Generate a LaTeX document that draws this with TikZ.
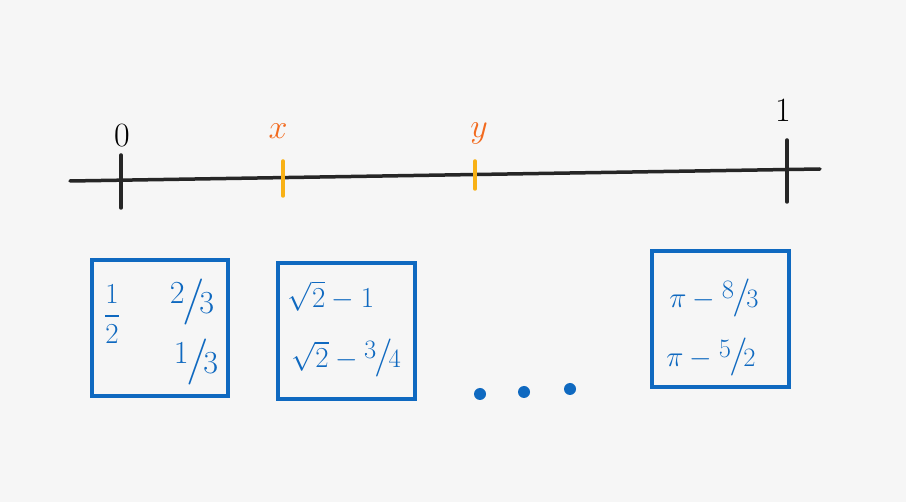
\RequirePackage{fix-cm}
\documentclass[tikz,border=0pt]{standalone}
\usepackage{amsmath,amssymb}
\usepackage{xfrac}
\usepackage{xcolor}
\usetikzlibrary{positioning,calc}
\definecolor{bgc}{HTML}{F6F6F6}
\definecolor{boxblue}{HTML}{0F69C0}
\definecolor{tickor}{HTML}{F8B116}
\definecolor{labor}{HTML}{F26A1E}
\newcommand{\bsf}[2]{{\fontsize{38}{42}\selectfont$\sfrac{#1}{#2}$}}

\begin{document}
\begin{tikzpicture}[x=1pt,y=-1pt,
  tk/.style={line width=3.5pt,line cap=round,black!85},
  tko/.style={line width=3.5pt,line cap=round,tickor},
  lab/.style={font=\fontsize{34}{38}\selectfont},
  bx/.style={draw=boxblue,line width=4.5pt,fill=none},
  bt/.style={text=boxblue,font=\fontsize{29}{33}\selectfont,inner sep=0pt},
  bf/.style={bt,font=\fontsize{46}{50}\selectfont},
  dot/.style={circle,fill=boxblue,inner sep=0pt,minimum size=12pt}]
\fill[bgc] (0,0) rectangle (906,502);
\useasboundingbox (0,0) rectangle (906,502);
% number line
\coordinate (la) at (70,181);
\coordinate (lb) at (820,169);
\draw[line width=3.5pt,line cap=round,black!85] (la) -- (lb);
\coordinate (t0a) at (121,155); \coordinate (t0b) at (121,208);
\coordinate (t1a) at (787,140); \coordinate (t1b) at (787,202);
\coordinate (txa) at (283,161); \coordinate (txb) at (283,196);
\coordinate (tya) at (475,161); \coordinate (tyb) at (475,189);
\draw[tk] (t0a) -- (t0b);
\draw[tk] (t1a) -- (t1b);
\draw[tko] (txa) -- (txb);
\draw[tko] (tya) -- (tyb);
\node[lab] (l0) at (122,136) {0};
\node[lab] (l1) at (783,110) {1};
\node[lab,text=labor] (lx) at (278,131) {$x$};
\node[lab,text=labor] (ly) at (479,133) {$y$};
% boxes
\draw[bx] (92,260) rectangle (228,396);
\draw[bx] (278,263) rectangle (415,399);
\draw[bx] (652,251) rectangle (789,387);
\node[bt] (q1) at (112,314) {$\dfrac12$};
\node[bf] (q2) at (192,302) {$\sfrac{2}{3}$};
\node[bf] (q3) at (196,362) {$\sfrac{1}{3}$};
\node[bt] (r1) at (331,296) {$\sqrt2-1$};
\node[bt] (r2) at (346,358) {$\sqrt2-{}$\bsf34};
\node[bt] (p1) at (714,298) {$\pi-{}$\bsf83};
\node[bt] (p2) at (711,357) {$\pi-{}$\bsf52};
% dots
\node[dot] (d1) at (480,394) {};
\node[dot] (d2) at (524,392) {};
\node[dot] (d3) at (570,389) {};
\end{tikzpicture}
\end{document}
